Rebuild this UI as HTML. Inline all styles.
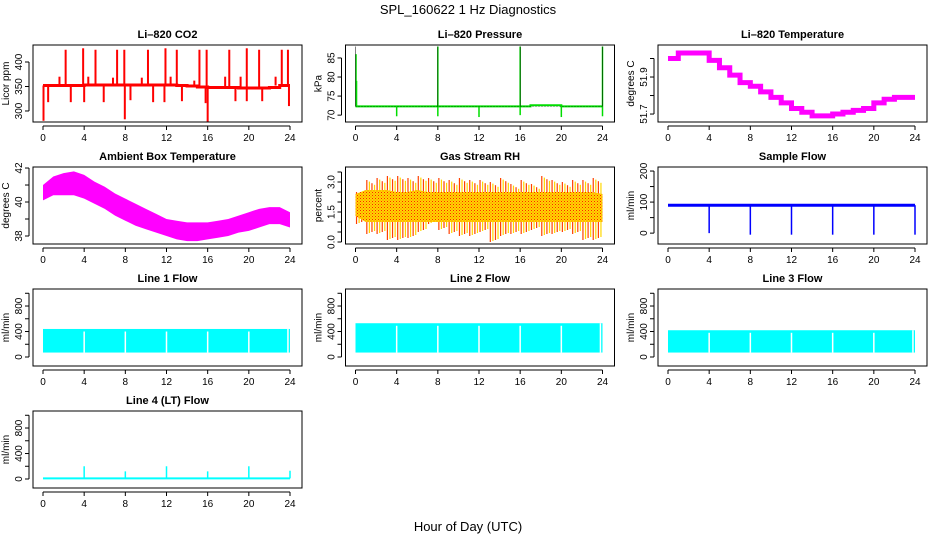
<!DOCTYPE html>
<html><head><meta charset="utf-8"><style>
body{margin:0;background:#fff;}
svg{display:block;font-family:"Liberation Sans",sans-serif;}
</style></head><body>
<svg id="c" width="936" height="540" viewBox="0 0 936 540">
<defs>
<pattern id="rhpat" width="3" height="3" patternUnits="userSpaceOnUse"><rect width="3" height="3" fill="#ffd700"/><rect width="1" height="1" fill="#ff2000"/><rect x="1.5" y="1.5" width="1" height="1" fill="#ff6000"/></pattern>
</defs>
<text x="468" y="14" font-size="13" text-anchor="middle">SPL_160622  1 Hz Diagnostics</text>
<text x="468" y="531" font-size="13" text-anchor="middle">Hour of Day (UTC)</text>
</svg>
<script>
const xTicks=[0,4,8,12,16,20,24];
const hours=[0,1,2,3,4,5,6,7,8,9,10,11,12,13,14,15,16,17,18,19,20,21,22,23,24];
// CO2
const co2Base=[352,352,352,352,353,353,353,353,353,353,353,353,353,352,351,349,348,348,348,347,347,347,348,352,352];
const co2SpikeH=[2.2,3.9,5.1,7.2,7.9,10.2,11.9,13.0,15.2,15.9,18.1,19.8,21.0,23.2,23.8,1.6,4.4,6.8,9.6,12.4,14.7,17.7,19.2,22.6,0.5,2.7,4.0,5.9,8.5,10.7,11.8,13.5,15.8,18.7,19.8,21.3,23.9,0.05,7.95,16.0];
const co2SpikeV=[425,428,425,425,425,425,428,425,425,425,425,428,425,425,425,370,370,368,368,370,362,370,370,370,318,318,318,318,322,318,318,320,316,320,320,320,310,280,283,278];
// Pressure
const presBase=[72.3,72.3,72.3,72.3,72.3,72.3,72.3,72.3,72.3,72.3,72.3,72.3,72.3,72.3,72.3,72.3,72.3,72.6,72.6,72.6,72.3,72.3,72.3,72.3,72.3];
const presSpikeH=[0.05,0.1,4,8,8,12,16,16,20,24,24];
const presSpikeV=[86,79,69.7,88,69.7,69.5,88,70,69.5,88,69.7];
// Li-820 temperature
const tempVals=[52.0,52.03,52.03,52.03,51.99,51.95,51.91,51.87,51.85,51.82,51.79,51.76,51.73,51.71,51.69,51.69,51.70,51.71,51.72,51.73,51.76,51.78,51.79,51.79,51.79];
// Ambient box temperature
const ambHi=[41.0,41.5,41.7,41.8,41.6,41.2,40.9,40.5,40.2,39.9,39.6,39.3,39.0,38.9,38.8,38.8,38.8,38.9,39.0,39.2,39.4,39.6,39.7,39.7,39.4];
const ambLo=[40.1,40.4,40.4,40.4,40.2,39.9,39.6,39.2,38.9,38.6,38.4,38.2,38.0,37.8,37.7,37.7,37.8,37.9,38.0,38.2,38.3,38.5,38.7,38.7,38.5];
// Gas stream RH
const rhHi=[2.5,3.1,3.2,3.3,3.3,3.2,3.3,3.2,3.2,3.1,3.2,3.1,3.1,3.0,3.2,2.9,3.1,2.9,3.3,3.1,3.0,3.1,3.1,3.2,3.3];
const rhLo=[0.9,0.4,0.4,0.1,0.1,0.2,0.5,0.9,0.6,0.4,0.3,0.3,0.5,0.0,0.3,0.4,0.4,0.6,0.3,0.4,0.5,0.4,0.1,0.1,0.6];
const rhCoreHi=[2.4,2.6,2.6,2.6,2.5,2.5,2.6,2.5,2.5,2.5,2.5,2.5,2.5,2.5,2.5,2.5,2.5,2.5,2.5,2.5,2.5,2.5,2.5,2.5,2.4];
const rhCoreLo=[1.3,1.0,1.0,1.0,1.0,1.0,1.0,1.0,1.0,1.0,1.0,1.0,1.0,1.0,1.0,1.0,1.0,1.0,1.0,1.0,1.0,1.0,1.0,1.0,1.0];
// Sample flow
const flowBase=90;
const flowDipH=[4,8,12,16,20,24];
const flowDipV=[0,-5,-5,-5,-5,-5];
// Line flows
const gapH=[4,8,12,16,20];
const l1Lo=70,l1Hi=440,l2Lo=70,l2Hi=530,l3Lo=70,l3Hi=420;
const l4Base=10;
const l4SpikeH=[4,8,12,16,20,24];
const l4SpikeV=[200,120,200,120,200,130];

const svg=document.getElementById('c');
const NS='http://www.w3.org/2000/svg';
function mk(tag,at,parent){const e=document.createElementNS(NS,tag);for(const k in at)e.setAttribute(k,at[k]);(parent||svg).appendChild(e);return e;}

function panel(r,c,title,ylab,yTop,yBot,ticks,labels,name){
  const L=33+312.5*c, T=45+122*r, W=269, H=77;
  const g=mk('g',{});
  
  
  const sx=h=>L+10+h*(247/24);
  const sy=v=>T+(yTop-v)/(yTop-yBot)*H;
  const t=mk('text',{x:L+W/2,y:T-7,'font-size':11,'font-weight':'bold','text-anchor':'middle'},g);t.textContent=title;
  
  
  const yl=mk('text',{x:0,y:0,'font-size':10,'text-anchor':'middle',transform:`translate(${L-24},${T+H/2}) rotate(-90)`},g);yl.textContent=ylab;
  
  
  // y axis
  const ya=mk('g',{stroke:'#000','stroke-width':1},g);
  
  
  const yMinT=ticks[0],yMaxT=ticks[ticks.length-1];
  mk('line',{x1:L-4,x2:L-4,y1:sy(yMinT),y2:sy(yMaxT)},ya);
  ticks.forEach(v=>{mk('line',{x1:L-4,x2:L-8,y1:sy(v),y2:sy(v)},ya);});
  labels.forEach(v=>{const tx=mk('text',{x:0,y:0,'font-size':10,'text-anchor':'middle',stroke:'none',transform:`translate(${L-11},${sy(v)}) rotate(-90)`},g);tx.textContent=(typeof v==='number'&&name.match(/temp$|rh/)&&String(v).indexOf('.')<0&&name!=='ambient-temp')?v.toFixed(1):String(v);});
  // x axis
  const xa=mk('g',{stroke:'#000'},g);
  
  
  mk('line',{x1:sx(0),x2:sx(24),y1:T+H+4,y2:T+H+4},xa);
  xTicks.forEach(h=>{mk('line',{x1:sx(h),x2:sx(h),y1:T+H+4,y2:T+H+8},xa);
    const tx=mk('text',{x:sx(h),y:T+H+19,'font-size':10,'text-anchor':'middle',stroke:'none'},g);tx.textContent=h;});
  const data=mk('g',{},g);
  
  
  mk('rect',{x:L,y:T,width:W,height:H,fill:'none',stroke:'#000'},g);
  return {sx,sy,g:data};
}
function vline(p,h,v1,v2,col,w){mk('line',{x1:p.sx(h),x2:p.sx(h),y1:p.sy(v1),y2:p.sy(v2),stroke:col,'stroke-width':w||1},p.g);}
function poly(p,xs,ys,col,w,step){let pts=[];xs.forEach((h,i)=>{if(step&&i>0)pts.push(p.sx(h)+','+p.sy(ys[i-1]));pts.push(p.sx(h)+','+p.sy(ys[i]));});mk('polyline',{points:pts.join(' '),fill:'none',stroke:col,'stroke-width':w},p.g);}
function band(p,xs,lo,hi,fill){let pts=xs.map((h,i)=>p.sx(h)+','+p.sy(hi[i]));for(let i=xs.length-1;i>=0;i--)pts.push(p.sx(xs[i])+','+p.sy(lo[i]));mk('polygon',{points:pts.join(' '),fill:fill},p.g);}

// CO2
let p=panel(0,0,'Li\u2013820 CO2','Licor ppm',434.7,277.5,[300,350,400],[300,350,400],'co2');
poly(p,hours,co2Base,'#ff0000',3,true);
co2SpikeH.forEach((h,i)=>{const b=co2Base[Math.min(24,Math.round(h))];vline(p,h,b,co2SpikeV[i],'#ff0000',2);});
// Pressure
p=panel(0,1,'Li\u2013820 Pressure','kPa',88.4,68.2,[70,75,80,85],[70,75,80,85],'pressure');
poly(p,hours,presBase,'#00dd00',2,true);
presSpikeH.forEach((h,i)=>vline(p,h,presBase[Math.min(24,Math.round(h))],presSpikeV[i],'#00dd00',1.5));
mk('line',{x1:p.sx(0),x2:p.sx(24),y1:p.sy(72.3),y2:p.sy(72.3),stroke:'#000','stroke-width':0.6,'stroke-dasharray':'1,2'},p.g);
[0,8,16,24].forEach(h=>vline(p,h,72.3,88,'#000',0.5));
// Temp
p=panel(0,2,'Li\u2013820 Temperature','degrees C',52.073,51.657,[51.7,51.8,51.9,52.0],[51.7,51.9],'li820-temp');
poly(p,hours,tempVals,'#ff00ff',5,true);
// Ambient
p=panel(1,0,'Ambient Box Temperature','degrees C',42.06,37.53,[38,39,40,41,42],[38,40,42],'ambient-temp');
band(p,hours,ambLo,ambHi,'#ff00ff');
// RH
p=panel(1,1,'Gas Stream RH','percent',3.75,-0.1,[0,0.5,1,1.5,2,2.5,3,3.5],['0.0','1.5','3.0'],'gas-rh');
for(let i=0;i<24;i++){for(let k=0;k<4;k++){const h=i+k*0.25+0.1;vline(p,h,rhLo[i]+k*0.05,rhHi[i]-k*0.08,k%2?'#ffd700':'#ff4000',1.2);}}
band(p,hours,rhCoreLo,rhCoreHi,'url(#rhpat)');
// Sample flow
p=panel(1,2,'Sample Flow','ml/min',213,-35,[0,50,100,150,200],[0,100,200],'sample-flow');
mk('line',{x1:p.sx(0),x2:p.sx(24),y1:p.sy(flowBase),y2:p.sy(flowBase),stroke:'#0000ff','stroke-width':3},p.g);
flowDipH.forEach((h,i)=>vline(p,h,flowBase,flowDipV[i],'#0000ff',1.5));
// Line flows
function lineFlow(r,c,title,lo,hi,name){
  const q=panel(r,c,title,'ml/min',1067,-141,[0,200,400,600,800,1000],[0,400,800],name);
  mk('rect',{x:q.sx(0),y:q.sy(hi),width:q.sx(24)-q.sx(0),height:q.sy(lo)-q.sy(hi),fill:'#00ffff'},q.g);
  gapH.forEach(h=>vline(q,h,lo,hi-40,'#ffffff',1.5));
  vline(q,23.8,lo,hi,'#ffffff',1.5);
  return q;
}
lineFlow(2,0,'Line 1 Flow',l1Lo,l1Hi,'line1-flow');
lineFlow(2,1,'Line 2 Flow',l2Lo,l2Hi,'line2-flow');
lineFlow(2,2,'Line 3 Flow',l3Lo,l3Hi,'line3-flow');
p=panel(3,0,'Line 4 (LT) Flow','ml/min',1067,-141,[0,200,400,600,800,1000],[0,400,800],'line4-flow');
mk('line',{x1:p.sx(0),x2:p.sx(24),y1:p.sy(l4Base),y2:p.sy(l4Base),stroke:'#00ffff','stroke-width':2},p.g);
l4SpikeH.forEach((h,i)=>vline(p,h,l4Base,l4SpikeV[i],'#00ffff',1.5));
</script>
</body></html>
